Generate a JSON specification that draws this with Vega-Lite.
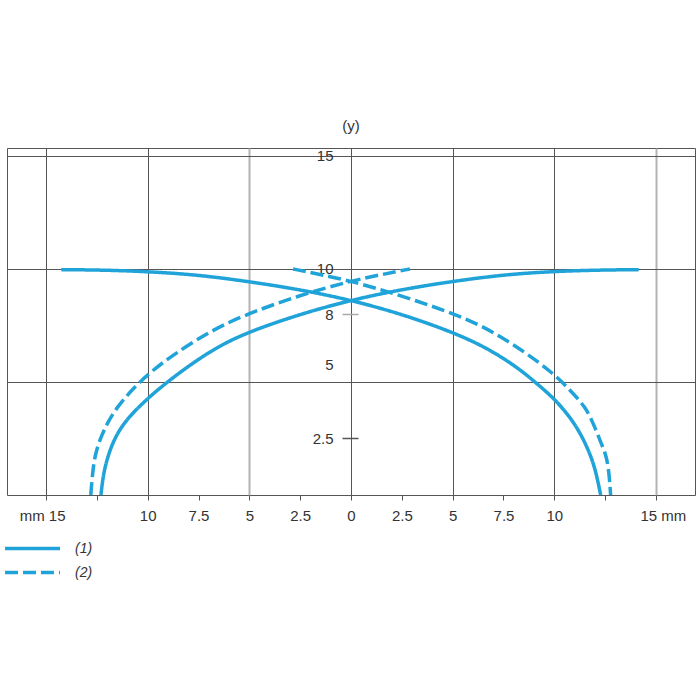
{
  "$schema": "https://vega.github.io/schema/vega-lite/v6.json",
  "autosize": "none",
  "width": 688,
  "height": 347,
  "padding": {"left": 7, "top": 148, "right": 5, "bottom": 205},
  "background": "white",
  "title": {"text": "(y)", "fontSize": 15, "fontWeight": "normal", "font": "Liberation Sans", "color": "#333", "offset": 14, "anchor": "middle"},
  "config": {
    "view": {"stroke": "#555", "strokeWidth": 1},
    "axis": {"labelFont": "Liberation Sans", "labelFontSize": 15, "labelColor": "#333"}
  },
  "data": {"values": [
    {"series": "(1)", "branch": "a", "i": 0, "x": -12.3, "y": 0},
    {"series": "(1)", "branch": "a", "i": 1, "x": -12.2, "y": 0.8},
    {"series": "(1)", "branch": "a", "i": 2, "x": -12.02, "y": 1.55},
    {"series": "(1)", "branch": "a", "i": 3, "x": -11.65, "y": 2.5},
    {"series": "(1)", "branch": "a", "i": 4, "x": -11.05, "y": 3.35},
    {"series": "(1)", "branch": "a", "i": 5, "x": -10.0, "y": 4.28},
    {"series": "(1)", "branch": "a", "i": 6, "x": -9.1, "y": 4.95},
    {"series": "(1)", "branch": "a", "i": 7, "x": -8.3, "y": 5.5},
    {"series": "(1)", "branch": "a", "i": 8, "x": -7.0, "y": 6.32},
    {"series": "(1)", "branch": "a", "i": 9, "x": -5.46, "y": 7.08},
    {"series": "(1)", "branch": "a", "i": 10, "x": -2.7, "y": 7.95},
    {"series": "(1)", "branch": "a", "i": 11, "x": 0, "y": 8.63},
    {"series": "(1)", "branch": "a", "i": 12, "x": 2.7, "y": 9.13},
    {"series": "(1)", "branch": "a", "i": 13, "x": 5.36, "y": 9.5},
    {"series": "(1)", "branch": "a", "i": 14, "x": 7.8, "y": 9.77},
    {"series": "(1)", "branch": "a", "i": 15, "x": 10, "y": 9.89},
    {"series": "(1)", "branch": "a", "i": 16, "x": 12, "y": 9.95},
    {"series": "(1)", "branch": "a", "i": 17, "x": 14.15, "y": 9.97},
    {"series": "(1)", "branch": "b", "i": 0, "x": -14.25, "y": 9.97},
    {"series": "(1)", "branch": "b", "i": 1, "x": -12, "y": 9.95},
    {"series": "(1)", "branch": "b", "i": 2, "x": -10, "y": 9.88},
    {"series": "(1)", "branch": "b", "i": 3, "x": -7.8, "y": 9.76},
    {"series": "(1)", "branch": "b", "i": 4, "x": -5.46, "y": 9.5},
    {"series": "(1)", "branch": "b", "i": 5, "x": -2.7, "y": 9.12},
    {"series": "(1)", "branch": "b", "i": 6, "x": 0, "y": 8.63},
    {"series": "(1)", "branch": "b", "i": 7, "x": 2.7, "y": 7.95},
    {"series": "(1)", "branch": "b", "i": 8, "x": 5.36, "y": 7.08},
    {"series": "(1)", "branch": "b", "i": 9, "x": 7.0, "y": 6.35},
    {"series": "(1)", "branch": "b", "i": 10, "x": 8.4, "y": 5.5},
    {"series": "(1)", "branch": "b", "i": 11, "x": 9.1, "y": 4.95},
    {"series": "(1)", "branch": "b", "i": 12, "x": 10.0, "y": 4.28},
    {"series": "(1)", "branch": "b", "i": 13, "x": 11.1, "y": 3.1},
    {"series": "(1)", "branch": "b", "i": 14, "x": 11.84, "y": 1.69},
    {"series": "(1)", "branch": "b", "i": 15, "x": 12.1, "y": 0.8},
    {"series": "(1)", "branch": "b", "i": 16, "x": 12.28, "y": 0},
    {"series": "(2)", "branch": "a", "i": 0, "x": -12.8, "y": 0},
    {"series": "(2)", "branch": "a", "i": 1, "x": -12.72, "y": 0.9},
    {"series": "(2)", "branch": "a", "i": 2, "x": -12.59, "y": 1.84},
    {"series": "(2)", "branch": "a", "i": 3, "x": -12.18, "y": 2.88},
    {"series": "(2)", "branch": "a", "i": 4, "x": -11.52, "y": 3.91},
    {"series": "(2)", "branch": "a", "i": 5, "x": -10.54, "y": 4.87},
    {"series": "(2)", "branch": "a", "i": 6, "x": -9.85, "y": 5.45},
    {"series": "(2)", "branch": "a", "i": 7, "x": -8.64, "y": 6.27},
    {"series": "(2)", "branch": "a", "i": 8, "x": -7.0, "y": 7.2},
    {"series": "(2)", "branch": "a", "i": 9, "x": -5.46, "y": 7.89},
    {"series": "(2)", "branch": "a", "i": 10, "x": -2.51, "y": 8.85},
    {"series": "(2)", "branch": "a", "i": 11, "x": 0, "y": 9.47},
    {"series": "(2)", "branch": "a", "i": 12, "x": 1.5, "y": 9.75},
    {"series": "(2)", "branch": "a", "i": 13, "x": 2.9, "y": 10.0},
    {"series": "(2)", "branch": "b", "i": 0, "x": -2.85, "y": 10.0},
    {"series": "(2)", "branch": "b", "i": 1, "x": -1.5, "y": 9.75},
    {"series": "(2)", "branch": "b", "i": 2, "x": 0, "y": 9.47},
    {"series": "(2)", "branch": "b", "i": 3, "x": 2.56, "y": 8.8},
    {"series": "(2)", "branch": "b", "i": 4, "x": 5.36, "y": 7.93},
    {"series": "(2)", "branch": "b", "i": 5, "x": 7.0, "y": 7.22},
    {"series": "(2)", "branch": "b", "i": 6, "x": 8.64, "y": 6.27},
    {"series": "(2)", "branch": "b", "i": 7, "x": 9.95, "y": 5.38},
    {"series": "(2)", "branch": "b", "i": 8, "x": 10.77, "y": 4.65},
    {"series": "(2)", "branch": "b", "i": 9, "x": 11.52, "y": 3.91},
    {"series": "(2)", "branch": "b", "i": 10, "x": 11.92, "y": 3.17},
    {"series": "(2)", "branch": "b", "i": 11, "x": 12.3, "y": 2.3},
    {"series": "(2)", "branch": "b", "i": 12, "x": 12.58, "y": 1.69},
    {"series": "(2)", "branch": "b", "i": 13, "x": 12.7, "y": 0.9},
    {"series": "(2)", "branch": "b", "i": 14, "x": 12.77, "y": 0}
  ]},
  "mark": {"type": "line", "interpolate": "basis", "strokeWidth": 3.5, "color": "#1fa3d8", "strokeCap": "butt"},
  "encoding": {
    "x": {
      "field": "x", "type": "quantitative",
      "scale": {"domain": [-16.92, 16.92], "nice": false, "zero": false},
      "axis": {
        "title": null,
        "values": [-15, -12.5, -10, -7.5, -5, -2.5, 0, 2.5, 5, 7.5, 10, 12.5, 15],
        "labelExpr": "datum.value == -15 ? 'mm 15' : datum.value == 15 ? '15 mm' : abs(datum.value) == 12.5 ? '' : '' + abs(datum.value)",
        "domain": false,
        "grid": true,
        "gridColor": {"condition": {"test": "datum.value == -5 || datum.value == 15", "value": "#b3b3b3"}, "value": "#555555"},
        "gridWidth": {"condition": {"test": "datum.value == -5 || datum.value == 15", "value": 2}, "value": 1},
        "gridOpacity": {"condition": {"test": "datum.value % 5 == 0", "value": 1}, "value": 0},
        "ticks": true, "tickSize": 5, "tickColor": "#555555",
        "labelPadding": 8,
        "labelFlush": false, "labelOverlap": false,
        "labelAlign": {"condition": [{"test": "datum.value == -15", "value": "right"}, {"test": "datum.value == 15", "value": "left"}], "value": "center"},
        "labelOffset": {"condition": [{"test": "datum.value == -15", "value": 19}, {"test": "datum.value == 15", "value": -16}], "value": 0}
      }
    },
    "y": {
      "field": "y", "type": "quantitative",
      "scale": {"domain": [0, 15.35], "nice": false},
      "axis": {
        "title": null,
        "orient": "left",
        "offset": -351,
        "values": [2.5, 5, 8, 10, 15],
        "labelExpr": "'' + datum.value",
        "domain": false,
        "grid": true,
        "gridColor": "#555555",
        "gridOpacity": {"condition": {"test": "datum.value == 5 || datum.value == 10 || datum.value == 15", "value": 1}, "value": 0},
        "ticks": true, "tickSize": 16, "tickWidth": 1.5,
        "tickColor": {"condition": {"test": "datum.value == 8", "value": "#aaaaaa"}, "value": "#555555"},
        "tickOpacity": {"condition": {"test": "datum.value == 2.5 || datum.value == 8", "value": 1}, "value": 0},
        "labelPadding": 9,
        "labelOffset": {"condition": {"test": "datum.value == 5", "value": -17}, "value": 0},
        "labelOverlap": false, "labelFlush": false
      }
    },
    "detail": {"field": "branch"},
    "order": {"field": "i", "type": "quantitative"},
    "strokeDash": {
      "field": "series", "type": "nominal",
      "scale": {"domain": ["(1)", "(2)"], "range": [[1, 0], [13, 5]]},
      "legend": {
        "title": null, "orient": "none", "legendX": 18, "legendY": 393,
        "symbolType": "M-5,0H5", "symbolSize": 121, "symbolStrokeWidth": 3.5,
        "symbolStrokeColor": "#1fa3d8", "symbolFillColor": "transparent",
        "labelFont": "Liberation Sans", "labelFontSize": 14, "labelFontStyle": "italic", "labelColor": "#333",
        "labelOffset": 35, "rowPadding": 9
      }
    }
  }
}
